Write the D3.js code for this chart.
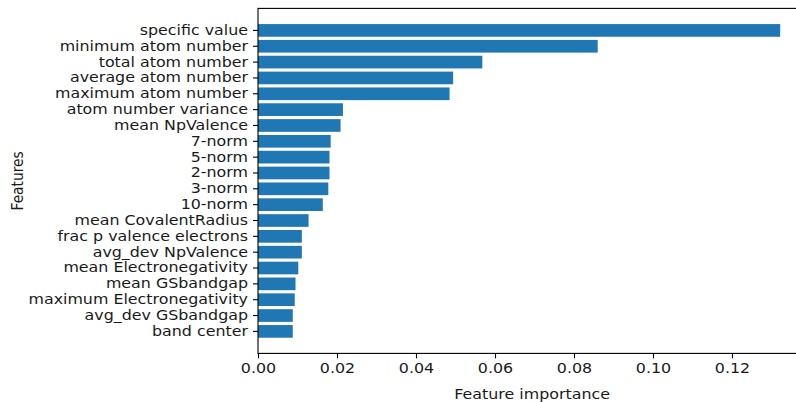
<!DOCTYPE html>
<html lang="en">
<head>
    <meta charset="UTF-8">
    <title>Feature importance</title>
    <script src="https://d3js.org/d3.v7.min.js"></script>
    <style>
        body { margin: 0; background: #ffffff; }
        text { font-family: "DejaVu Sans", sans-serif; fill: #1a1a1a; }
    </style>
</head>
<body>
<div id="chart"></div>
<script>
    // feature names, top to bottom
    const features = [
        'specific value', 'minimum atom number', 'total atom number', 'average atom number',
        'maximum atom number', 'atom number variance', 'mean NpValence', '7-norm', '5-norm',
        '2-norm', '3-norm', '10-norm', 'mean CovalentRadius', 'frac p valence electrons',
        'avg_dev NpValence', 'mean Electronegativity', 'mean GSbandgap',
        'maximum Electronegativity', 'avg_dev GSbandgap', 'band center'
    ];
    const importance = [
        0.1322, 0.0860, 0.0568, 0.0494, 0.0485, 0.0215, 0.0209, 0.0184, 0.0181,
        0.0181, 0.0178, 0.0164, 0.0128, 0.0111, 0.0111, 0.0102, 0.0095,
        0.0093, 0.0088, 0.0088
    ];
    const xTicks = [0, 0.02, 0.04, 0.06, 0.08, 0.10, 0.12];

    const width = 796, height = 402;
    const plotLeft = 258, plotTop = 8.4, plotBottom = 353.4;
    const plotRight = plotLeft + d3.max(importance) * 1.05 * 3950; // runs past the picture edge
    const fontSize = 13.8;
    const stretch = 1.15; // the reference glyphs are a bit wider than tall

    const svg = d3.select('#chart').append('svg')
        .attr('width', width)
        .attr('height', height);

    const x = d3.scaleLinear()
        .domain([0, d3.max(importance) * 1.05])
        .range([plotLeft, plotRight]);

    const y = d3.scaleBand()
        .domain(features)
        .range([plotTop, plotBottom])
        .paddingInner(0.2)
        .paddingOuter(0.99);

    // bars
    svg.append('g')
        .selectAll('rect')
        .data(features)
        .join('rect')
        .attr('x', x(0))
        .attr('y', d => y(d))
        .attr('width', (d, i) => x(importance[i]) - x(0))
        .attr('height', y.bandwidth())
        .attr('fill', '#1f77b4');

    // frame (right spine falls outside the image)
    svg.append('rect')
        .attr('x', plotLeft)
        .attr('y', plotTop)
        .attr('width', plotRight - plotLeft)
        .attr('height', plotBottom - plotTop)
        .attr('fill', 'none')
        .attr('stroke', '#000')
        .attr('stroke-width', 1.1);

    // x axis
    const xAxis = svg.append('g')
        .attr('transform', `translate(0,${plotBottom})`)
        .call(d3.axisBottom(x).tickValues(xTicks).tickFormat(d3.format('.2f'))
            .tickSize(5).tickPadding(5));
    xAxis.select('.domain').remove();
    xAxis.selectAll('.tick text')
        .attr('transform', `scale(${stretch},1)`);

    // y axis
    const yAxis = svg.append('g')
        .attr('transform', `translate(${plotLeft},0)`)
        .call(d3.axisLeft(y).tickSize(5).tickPadding(5));
    yAxis.select('.domain').remove();
    yAxis.selectAll('.tick text')
        .attr('x', null)
        .attr('transform', `translate(-10,0) scale(${stretch},1)`);

    svg.selectAll('.tick line').attr('stroke', '#000').attr('stroke-width', 1.1);
    svg.selectAll('.tick text')
        .attr('font-family', '"DejaVu Sans", sans-serif')
        .attr('font-size', fontSize)
        .attr('fill', '#1a1a1a');

    // axis titles
    svg.append('text')
        .attr('transform', `translate(${(plotLeft + plotRight) / 2},398.5) scale(${stretch},1)`)
        .attr('text-anchor', 'middle')
        .attr('font-size', fontSize)
        .text('Feature importance');

    svg.append('text')
        .attr('transform', `translate(23,${(plotTop + plotBottom) / 2}) scale(${stretch},1) rotate(-90)`)
        .attr('text-anchor', 'middle')
        .attr('font-size', fontSize)
        .text('Features');
</script>
</body>
</html>
